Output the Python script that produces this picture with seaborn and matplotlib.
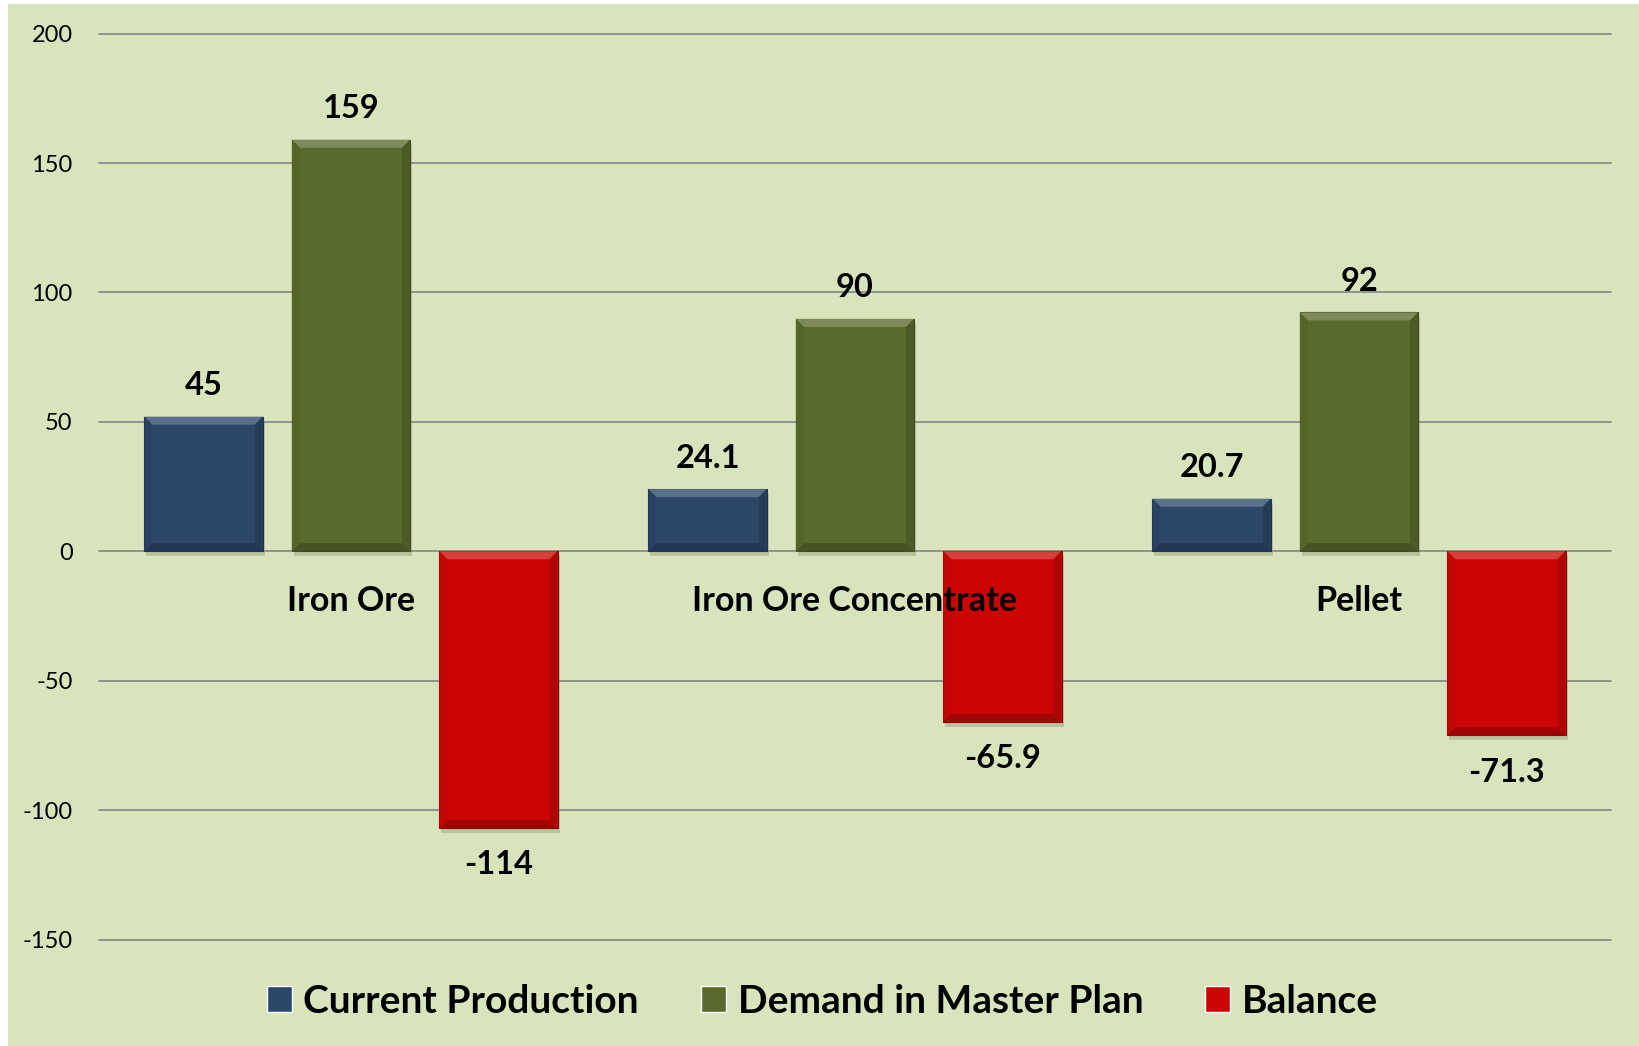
"""Iron ore supply balance: current production vs master plan demand."""

import matplotlib

matplotlib.use("Agg")
import matplotlib.pyplot as plt
import numpy as np
import pandas as pd
import seaborn as sns
from matplotlib.colors import to_rgb
from matplotlib.patches import Polygon, Rectangle
from matplotlib.transforms import IdentityTransform

CATEGORIES = ["Iron Ore", "Iron Ore Concentrate", "Pellet"]
SERIES = ["Current Production", "Demand in Master Plan", "Balance"]

# bar heights as drawn in the original (labels do not always match them)
CURRENT = [52, 24, 20.3]
DEMAND = [159, 89.8, 92.3]
BALANCE = [-107, -65.9, -71.1]

CURRENT_LABELS = ["45", "24.1", "20.7"]
DEMAND_LABELS = ["159", "90", "92"]
BALANCE_LABELS = ["-114", "-65.9", "-71.3"]

Y_TICKS = [-150, -100, -50, 0, 50, 100, 150, 200]

COLORS = ["#2c4769", "#586a2c", "#cc0606"]
BACKGROUND = "#d8e4bc"
GRID_COLOR = "#8c8c8c"


def shade(color, amount):
    """Lighten (amount > 0) or darken (amount < 0) a colour."""
    rgb = np.array(to_rgb(color))
    if amount > 0:
        return tuple(rgb + (1 - rgb) * amount)
    return tuple(rgb * (1 + amount))


def add_bevel(ax, patch, color, bevel=8):
    """Draw a simple bevel and drop shadow over a rendered bar."""
    bb = patch.get_window_extent()
    x0, y0, x1, y1 = bb.x0, bb.y0, bb.x1, bb.y1
    b = min(bevel, (x1 - x0) / 3, (y1 - y0) / 3)
    ident = IdentityTransform()

    shadow = Rectangle((x0 + 2, y0 - 5), x1 - x0, y1 - y0, transform=ident,
                       facecolor="#6e7a5a", alpha=0.3, edgecolor="none", zorder=1.5)
    ax.add_patch(shadow)

    faces = [
        ([(x0, y1), (x1, y1), (x1 - b, y1 - b), (x0 + b, y1 - b)], shade(color, 0.22)),
        ([(x0, y0), (x1, y0), (x1 - b, y0 + b), (x0 + b, y0 + b)], shade(color, -0.22)),
        ([(x0, y0), (x0 + b, y0 + b), (x0 + b, y1 - b), (x0, y1)], shade(color, -0.05)),
        ([(x1, y0), (x1 - b, y0 + b), (x1 - b, y1 - b), (x1, y1)], shade(color, -0.14)),
    ]
    for points, face in faces:
        ax.add_patch(Polygon(points, closed=True, transform=ident, facecolor=face,
                             edgecolor="none", zorder=patch.get_zorder() + 0.1))


def main():
    sns.set_theme(style="white")
    plt.rcParams["font.family"] = ["Lato", "DejaVu Sans"]
    plt.rcParams["axes.unicode_minus"] = False
    plt.rcParams["text.color"] = "black"

    frame = pd.DataFrame({
        "category": CATEGORIES * 3,
        "series": [s for s in SERIES for _ in CATEGORIES],
        "value": CURRENT + DEMAND + BALANCE,
    })

    fig = plt.figure(figsize=(16.4, 10.46), dpi=100, facecolor="white")
    fig.patches.append(Rectangle((8 / 1640, 0), 1, 1 - 4 / 1046, transform=fig.transFigure,
                                 facecolor=BACKGROUND, edgecolor="none", zorder=-1))
    ax = fig.add_axes([99 / 1640, 0.1018, (1611 - 99) / 1640, 0.9678 - 0.1018])
    ax.set_facecolor("none")

    sns.barplot(data=frame, x="category", y="value", hue="series", order=CATEGORIES,
                hue_order=SERIES, palette=COLORS, errorbar=None, width=0.8775,
                gap=0.198, saturation=1, ax=ax, zorder=2)

    ax.set_ylim(-150, 200)
    ax.set_xlim(-0.5, len(CATEGORIES) - 0.5)
    ax.set_yticks(Y_TICKS)
    ax.grid(axis="y", color=GRID_COLOR, linewidth=1.3)
    ax.set_axisbelow(True)
    ax.xaxis.set_zorder(5)  # category names sit on top of the bars
    for gl in ax.get_ygridlines():
        gl.set_clip_on(False)
    for side in ["top", "right", "left"]:
        ax.spines[side].set_visible(False)
    ax.spines["bottom"].set_position(("data", 0))
    ax.spines["bottom"].set_visible(False)
    ax.tick_params(axis="y", length=0, pad=19, labelsize=17, labelcolor="black")
    ax.tick_params(axis="x", length=0, pad=24, labelsize=24.5, labelcolor="black")
    for label in ax.get_xticklabels():
        label.set_fontweight("bold")
    ax.set_xlabel("")
    ax.set_ylabel("")

    all_labels = [CURRENT_LABELS, DEMAND_LABELS, BALANCE_LABELS]
    paddings = [12, 12, 16]
    for container, labels, pad in zip(ax.containers, all_labels, paddings):
        ax.bar_label(container, labels=labels, padding=pad, fontsize=23.5,
                     fontweight="bold", color="black")
        for patch in container.patches:
            patch.set_edgecolor(shade(patch.get_facecolor(), -0.3))
            patch.set_linewidth(0.8)

    sns.move_legend(ax, "center", bbox_to_anchor=(0.5015, 0.043),
                    bbox_transform=fig.transFigure, ncol=3, frameon=False, title=None,
                    prop={"weight": "bold", "size": 28}, handlelength=0.64,
                    handleheight=0.64, handletextpad=0.3, columnspacing=1.6,
                    labelcolor="black")

    fig.canvas.draw()
    for container, color in zip(ax.containers, COLORS):
        for patch in container.patches:
            add_bevel(ax, patch, color)

    fig.savefig("out.png", dpi=100, facecolor="white")
    plt.close(fig)


if __name__ == "__main__":
    main()
